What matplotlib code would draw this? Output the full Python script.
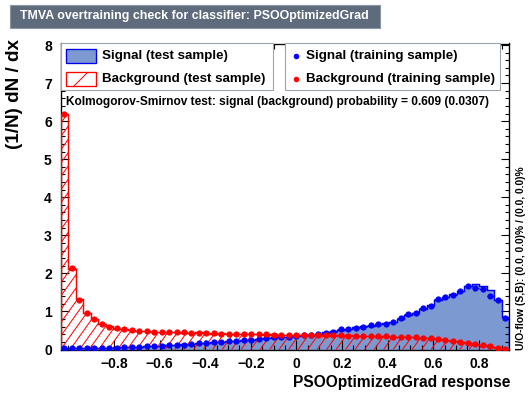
import numpy as np
import matplotlib.pyplot as plt
from matplotlib.patches import Rectangle
from matplotlib.lines import Line2D
from matplotlib.collections import LineCollection
from matplotlib.ticker import MultipleLocator

plt.rcParams['font.family'] = ['Liberation Sans', 'DejaVu Sans']
plt.rcParams['font.weight'] = 'bold'
plt.rcParams['hatch.linewidth'] = 0.9

# histogram range / binning
x_lo, x_hi, n_bins = -1.034, 0.932, 60

# signal, test sample (filled histogram)
sig_test = [0.05, 0.04, 0.04, 0.05, 0.04, 0.05, 0.05, 0.06, 0.06, 0.07,
            0.07, 0.08, 0.09, 0.10, 0.11, 0.12, 0.14, 0.15, 0.17, 0.18,
            0.19, 0.21, 0.22, 0.23, 0.25, 0.26, 0.28, 0.30, 0.31, 0.33,
            0.34, 0.36, 0.37, 0.39, 0.42, 0.45, 0.48, 0.52, 0.55, 0.58,
            0.61, 0.63, 0.66, 0.69, 0.73, 0.80, 0.90, 0.96, 1.07, 1.16,
            1.30, 1.37, 1.45, 1.55, 1.68, 1.73, 1.66, 1.57, 1.31, 0.86]
# signal, training sample (points)
sig_train = [0.04, 0.04, 0.04, 0.04, 0.04, 0.04, 0.05, 0.05, 0.06, 0.06,
             0.07, 0.08, 0.09, 0.10, 0.11, 0.12, 0.13, 0.15, 0.16, 0.18,
             0.19, 0.20, 0.22, 0.23, 0.24, 0.25, 0.28, 0.30, 0.32, 0.33,
             0.34, 0.35, 0.37, 0.38, 0.41, 0.44, 0.47, 0.53, 0.55, 0.57,
             0.60, 0.64, 0.66, 0.68, 0.71, 0.82, 0.92, 0.95, 1.08, 1.15,
             1.32, 1.38, 1.44, 1.54, 1.66, 1.62, 1.60, 1.41, 1.31, 0.83]
# background, test sample (hatched histogram)
bkg_test = [6.18, 2.12, 1.32, 0.95, 0.81, 0.67, 0.61, 0.55, 0.54, 0.50,
            0.49, 0.48, 0.47, 0.47, 0.45, 0.46, 0.44, 0.44, 0.45, 0.43,
            0.42, 0.43, 0.41, 0.42, 0.40, 0.41, 0.40, 0.39, 0.40, 0.38,
            0.39, 0.38, 0.37, 0.38, 0.37, 0.36, 0.37, 0.36, 0.37, 0.35,
            0.36, 0.35, 0.34, 0.35, 0.33, 0.34, 0.32, 0.32, 0.30, 0.29,
            0.27, 0.24, 0.23, 0.19, 0.17, 0.13, 0.11, 0.07, 0.05, 0.02]
# background, training sample (points)
bkg_train = [6.20, 2.15, 1.30, 0.96, 0.80, 0.68, 0.60, 0.56, 0.53, 0.51,
             0.49, 0.48, 0.47, 0.46, 0.46, 0.45, 0.45, 0.44, 0.44, 0.43,
             0.43, 0.42, 0.42, 0.41, 0.41, 0.40, 0.40, 0.40, 0.39, 0.39,
             0.39, 0.38, 0.38, 0.38, 0.37, 0.37, 0.37, 0.37, 0.36, 0.36,
             0.36, 0.35, 0.35, 0.35, 0.34, 0.34, 0.33, 0.32, 0.31, 0.29,
             0.27, 0.25, 0.23, 0.20, 0.17, 0.14, 0.11, 0.08, 0.05, 0.02]

title = "TMVA overtraining check for classifier: PSOOptimizedGrad"
ks_text = "Kolmogorov-Smirnov test: signal (background) probability = 0.609 (0.0307)"
uo_text = "U/O-flow (S,B): (0.0, 0.0)% / (0.0, 0.0)%"

sig_fill = '#7d99d1'
sig_line = '#0000ee'
bkg_col = '#ff0000'

edges = np.linspace(x_lo, x_hi, n_bins + 1)
centers = 0.5 * (edges[1:] + edges[:-1])
half_w = 0.5 * (edges[1] - edges[0])

W, H = 528, 393
ax_w, ax_h = 448.3, 306
fig = plt.figure(figsize=(W / 80, H / 80), dpi=80)
ax = fig.add_axes([60.7 / W, 1 - 349.5 / H, ax_w / W, ax_h / H])

ax.stairs(sig_test, edges, fill=True, facecolor=sig_fill, edgecolor='none', zorder=1)
ax.stairs(sig_test, edges, color=sig_line, lw=1.3, zorder=2)
bkg_patch = ax.stairs(bkg_test, edges, fill=True, facecolor='none',
                      edgecolor='none', lw=0, zorder=3)

# ROOT-like hatch (fill style 3554): diagonal lines clipped to the histogram
step_px, slope = 9.5, 1.4
starts = np.arange(-ax_h / slope, ax_w + step_px, step_px) / ax_w
segs = [[(s, 0), (s + ax_h / (slope * ax_w), 1)] for s in starts]
hatch = LineCollection(segs, colors=bkg_col, linewidths=0.9,
                       transform=ax.transAxes, zorder=3)
ax.add_collection(hatch)
hatch.set_clip_path(bkg_patch)

ax.stairs(bkg_test, edges, color=bkg_col, lw=1.3, zorder=4)

ax.errorbar(centers, sig_train, xerr=half_w, fmt='o', color='#0000ff', ms=4.6,
            elinewidth=1, capsize=0, zorder=5)
ax.errorbar(centers, bkg_train, xerr=half_w, fmt='o', color=bkg_col, ms=4.6,
            elinewidth=1, capsize=0, zorder=6)

ax.set_xlim(x_lo, x_hi)
ax.set_ylim(0, 8.04)
ax.xaxis.set_major_locator(MultipleLocator(0.2))
ax.xaxis.set_minor_locator(MultipleLocator(0.05))
ax.yaxis.set_major_locator(MultipleLocator(1))
ax.yaxis.set_minor_locator(MultipleLocator(0.2))
ax.tick_params(which='both', direction='in', top=True, right=True, width=1,
               labelsize=12.5, colors='black')
ax.tick_params(axis='x', which='major', length=9, pad=7)
ax.tick_params(axis='x', which='minor', length=4.5)
ax.tick_params(axis='y', which='major', length=7.5, pad=8)
ax.tick_params(axis='y', which='minor', length=4)
for s in ax.spines.values():
    s.set_linewidth(1.2)
ax.set_xticks([-0.8, -0.6, -0.4, -0.2, 0, 0.2, 0.4, 0.6, 0.8])
ax.set_xticklabels(['\u22120.8', '\u22120.6', '\u22120.4', '\u22120.2', '0',
                    '0.2', '0.4', '0.6', '0.8'])

# legend boxes (axes coordinates)
box_kw = dict(transform=ax.transAxes, facecolor='white', edgecolor='#9aa4ae',
              lw=1, zorder=10, clip_on=False)
ax.add_patch(Rectangle((0.0, 0.848), 0.4735, 0.152, **box_kw))
ax.add_patch(Rectangle((0.5003, 0.848), 0.48, 0.152, **box_kw))

ax.add_patch(Rectangle((0.012, 0.935), 0.067, 0.048, transform=ax.transAxes,
                       facecolor=sig_fill, edgecolor=sig_line, lw=1.2, zorder=11))
ax.add_patch(Rectangle((0.012, 0.86), 0.067, 0.048, transform=ax.transAxes,
                       facecolor='white', edgecolor=bkg_col, hatch='/', lw=1.2,
                       zorder=11))
ax.text(0.092, 0.958, "Signal (test sample)", transform=ax.transAxes,
        fontsize=12, va='center', zorder=12)
ax.text(0.092, 0.884, "Background (test sample)", transform=ax.transAxes,
        fontsize=12, va='center', zorder=12)
ax.add_line(Line2D([0.525], [0.958], transform=ax.transAxes, marker='o', ms=4,
                   color='#0000ff', zorder=12))
ax.add_line(Line2D([0.525], [0.884], transform=ax.transAxes, marker='o', ms=4,
                   color=bkg_col, zorder=12))
ax.text(0.547, 0.958, "Signal (training sample)", transform=ax.transAxes,
        fontsize=12, va='center', zorder=12)
ax.text(0.547, 0.884, "Background (training sample)", transform=ax.transAxes,
        fontsize=12, va='center', zorder=12)

ax.text(0.012, 0.808, ks_text, transform=ax.transAxes, fontsize=10.7,
        va='center', zorder=12)

# title box
fig.patches.append(Rectangle((10 / W, 1 - 28 / H), 370 / W, 23 / H,
                             transform=fig.transFigure, facecolor='#5d6b7d',
                             edgecolor='#8a95a3', lw=1))
fig.text(20 / W, 1 - 16.5 / H, title, color='white', fontsize=11.2,
         va='center', ha='left')

fig.text(15 / W, 1 - 39 / H, "(1/N) dN / dx", rotation=90, fontsize=17,
         ha='center', va='top')
fig.text(510 / W, 1 - 383 / H, "PSOOptimizedGrad response", fontsize=14,
         ha='right', va='center')
fig.text(521 / W, 1 - 350 / H, uo_text, rotation=90, fontsize=9.2,
         ha='center', va='bottom')

fig.savefig('out.png', dpi=80)
